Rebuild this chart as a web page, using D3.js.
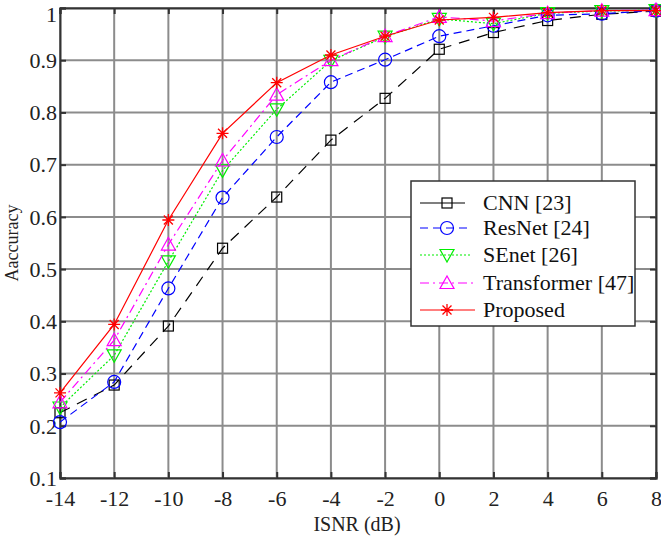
<!DOCTYPE html>
<html><head><meta charset="utf-8">
<script src="https://cdn.jsdelivr.net/npm/d3@7"></script>
<style>body{margin:0;background:#fff}svg{display:block}</style>
</head><body>
<script>
const snr = [-14,-12,-10,-8,-6,-4,-2,0,2,4,6,8];
const cnn = [0.225,0.278,0.391,0.540,0.638,0.747,0.827,0.921,0.953,0.976,0.988,0.994];
const resnet = [0.207,0.284,0.463,0.637,0.753,0.858,0.901,0.946,0.966,0.986,0.989,0.995];
const senet = [0.235,0.335,0.515,0.689,0.806,0.899,0.945,0.979,0.970,0.990,0.994,0.996];
const transformer = [0.245,0.364,0.547,0.708,0.834,0.900,0.946,0.983,0.975,0.990,0.995,0.996];
const proposed = [0.263,0.394,0.594,0.760,0.857,0.910,0.946,0.977,0.982,0.991,0.995,0.995];
const xTicks = [-14,-12,-10,-8,-6,-4,-2,0,2,4,6,8];
const yTicks = [0.1,0.2,0.3,0.4,0.5,0.6,0.7,0.8,0.9,1];
const yTickLabels = ["0.1","0.2","0.3","0.4","0.5","0.6","0.7","0.8","0.9","1"];
const names = ["CNN [23]","ResNet [24]","SEnet [26]","Transformer [47]","Proposed"];

const series = [
  {name:names[0], v:cnn, color:"#000000", dash:"11,8", ldash:null, marker:"square"},
  {name:names[1], v:resnet, color:"#0000ff", dash:"8,5", ldash:"8,5", marker:"circle"},
  {name:names[2], v:senet, color:"#00ee00", dash:"2,2", ldash:"2,2", marker:"tridown"},
  {name:names[3], v:transformer, color:"#ff00ff", dash:"9,4,2,4", ldash:"9,4,2,4", marker:"triup"},
  {name:names[4], v:proposed, color:"#ff0000", dash:null, ldash:null, marker:"star"}
];

const W=661,H=541;
const L=60,R=656,T=8,B=478;
const svg=d3.select("body").append("svg").attr("width",W).attr("height",H);
const x=d3.scaleLinear().domain([-14,8]).range([L,R]);
const y=d3.scaleLinear().domain([0.1,1]).range([B,T]);
const font="'Liberation Serif','Times New Roman',serif";

// grid
const g=svg.append("g");
g.selectAll(".gx").data(xTicks).join("line").attr("x1",d=>x(d)).attr("x2",d=>x(d)).attr("y1",T).attr("y2",B)
 .attr("stroke","#8c8c8c").attr("stroke-width",2);
g.selectAll(".gy").data(yTicks).join("line").attr("y1",d=>y(d)).attr("y2",d=>y(d)).attr("x1",L).attr("x2",R)
 .attr("stroke","#8c8c8c").attr("stroke-width",2);

// axes
const xa=svg.append("g").attr("transform",`translate(0,${B})`).call(d3.axisBottom(x).tickValues(xTicks).tickSize(-6).tickPadding(12).tickFormat(d=>String(d)));
const xt=svg.append("g").attr("transform",`translate(0,${T})`).call(d3.axisTop(x).tickValues(xTicks).tickSize(-6).tickFormat(""));
const ya=svg.append("g").attr("transform",`translate(${L},0)`).call(d3.axisLeft(y).tickValues(yTicks).tickSize(-6).tickPadding(3).tickFormat((d,i)=>yTickLabels[i]));
const yr=svg.append("g").attr("transform",`translate(${R},0)`).call(d3.axisRight(y).tickValues(yTicks).tickSize(-6).tickFormat(""));
[xa,xt,ya,yr].forEach(a=>{
  a.attr("font-family",font);
  a.selectAll("path").attr("stroke","#333").attr("stroke-width",2);
  a.selectAll("line").attr("stroke","#333").attr("stroke-width",2);
  a.selectAll("text").attr("font-family",font).attr("font-size",22).attr("fill","#222");
});
ya.selectAll("text").attr("dy","0.33em");
ya.selectAll(".tick").filter(d=>d===1).select("text").attr("dy","0.6em");

svg.append("text").attr("x",357).attr("y",531).attr("text-anchor","middle")
 .attr("font-family",font).attr("font-size",20).attr("fill","#222").text("ISNR (dB)");
svg.append("text").attr("transform",`translate(18,243) rotate(-90)`).attr("text-anchor","middle")
 .attr("font-family",font).attr("font-size",18).attr("fill","#222").text("Aaccuracy");

function drawMarker(sel,type,color){
  if(type==="square") sel.append("rect").attr("x",-5).attr("y",-5).attr("width",10).attr("height",10).attr("fill","none").attr("stroke",color).attr("stroke-width",1.2);
  else if(type==="circle") sel.append("circle").attr("r",6.5).attr("fill","none").attr("stroke",color).attr("stroke-width",1.2);
  else if(type==="tridown") sel.append("path").attr("d","M-7,-5.5L7,-5.5L0,7Z").attr("fill","none").attr("stroke",color).attr("stroke-width",1.2);
  else if(type==="triup") sel.append("path").attr("d","M-7,5.5L7,5.5L0,-7Z").attr("fill","none").attr("stroke",color).attr("stroke-width",1.2);
  else if(type==="star") sel.append("path").attr("d","M-6,0L6,0M0,-6L0,6M-4.5,-4.5L4.5,4.5M-4.5,4.5L4.5,-4.5").attr("fill","none").attr("stroke",color).attr("stroke-width",1.3);
}

const line=d3.line().x((d,i)=>x(snr[i])).y(d=>y(d));
series.forEach(s=>{
  svg.append("path").datum(s.v).attr("d",line).attr("fill","none").attr("stroke",s.color).attr("stroke-width",1.2)
   .attr("stroke-dasharray",s.dash);
  s.v.forEach((v,i)=>{
    const m=svg.append("g").attr("transform",`translate(${x(snr[i])},${y(v)})`);
    drawMarker(m,s.marker,s.color);
  });
});

// legend
const lg=svg.append("g");
lg.append("rect").attr("x",411).attr("y",181).attr("width",224).attr("height",145).attr("fill","#fff").attr("stroke","#333").attr("stroke-width",1.5);
const ly=[203,228,255,283,310];
const lx2=[465,470,472,475,475];
series.forEach((s,i)=>{
  lg.append("line").attr("x1",420).attr("x2",lx2[i]).attr("y1",ly[i]).attr("y2",ly[i]).attr("stroke",s.color).attr("stroke-width",1.2).attr("stroke-dasharray",s.ldash);
  const m=lg.append("g").attr("transform",`translate(447,${ly[i]})`);
  drawMarker(m,s.marker,s.color);
  lg.append("text").attr("x",483).attr("y",ly[i]).attr("dy","0.33em").attr("font-family",font).attr("font-size",22).attr("fill","#111").text(s.name);
});
</script>
</body></html>
